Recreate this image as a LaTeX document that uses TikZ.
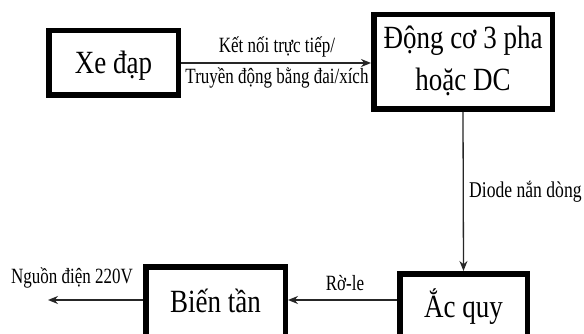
\documentclass[tikz,border=0pt]{standalone}
\usepackage{fontspec}
\setmainfont{Liberation Serif}
\usetikzlibrary{arrows.meta}
\newcommand{\tallbig}[1]{\scalebox{1}[1.2]{#1}}
\newcommand{\tallsmall}[1]{\scalebox{1}[1.28]{#1}}
\begin{document}
\begin{tikzpicture}[x=1pt,y=-1pt,
  blk/.style={draw=black, line width=5.5pt, fill=white, inner sep=0pt,
    font=\fontsize{27}{32.4}\selectfont, text height=21pt, text depth=0pt},
  lbl/.style={inner sep=0pt, font=\fontsize{17}{20}\selectfont},
  arr/.style={draw=black!85, line width=1.3pt, -{Stealth[length=10pt,width=8pt]}}]
  \clip (0,0) rectangle (584,334);
  \fill[white] (0,0) rectangle (584,334);

  % blocks
  \node[blk, minimum width=129.5pt, minimum height=64.5pt] (xe) at (113.5,63) {\tallbig{Xe đạp}};
  \node[blk, minimum width=178.5pt, minimum height=94.5pt, text height=, text depth=] (dc) at (463,62)
    {\tallbig{\begin{tabular}{@{}c@{}}Động cơ 3 pha\\[2.5pt]hoặc DC\end{tabular}}};
  \node[blk, minimum width=127.5pt, minimum height=66.5pt] (aq) at (463.5,307) {\tallbig{Ắc quy}};
  \node[blk, minimum width=139.5pt, minimum height=70.5pt] (bt) at (215.5,302) {\tallbig{Biến tần}};

  % connector levels
  \coordinate (lvl) at (0,300);
  \coordinate (outp) at (48,300);

  % connectors
  \draw[arr] (xe.east) -- (xe.east -| dc.west);
  \draw[arr] (dc.south) -- (aq.north);
  \draw[arr] (aq.west |- lvl) -- (bt.east |- lvl);
  \draw[arr] (bt.west |- lvl) -- (outp);

  % connector labels
  \node[lbl, anchor=base] (k1) at (277,53) {\tallsmall{Kết nối trực tiếp/}};
  \node[lbl, anchor=base] (k2) at (277,84) {\tallsmall{Truyền động bằng đai/xích}};
  \node[lbl, anchor=base west, font=\fontsize{17.6}{20}\selectfont] (diode) at (469,197) {\tallsmall{Diode nắn dòng}};
  \node[lbl, anchor=base] (role) at (345,290) {\tallsmall{Rờ-le}};
  \node[lbl, anchor=base] (nguon) at (72,283) {\tallsmall{Nguồn điện 220V}};
\end{tikzpicture}
\end{document}
